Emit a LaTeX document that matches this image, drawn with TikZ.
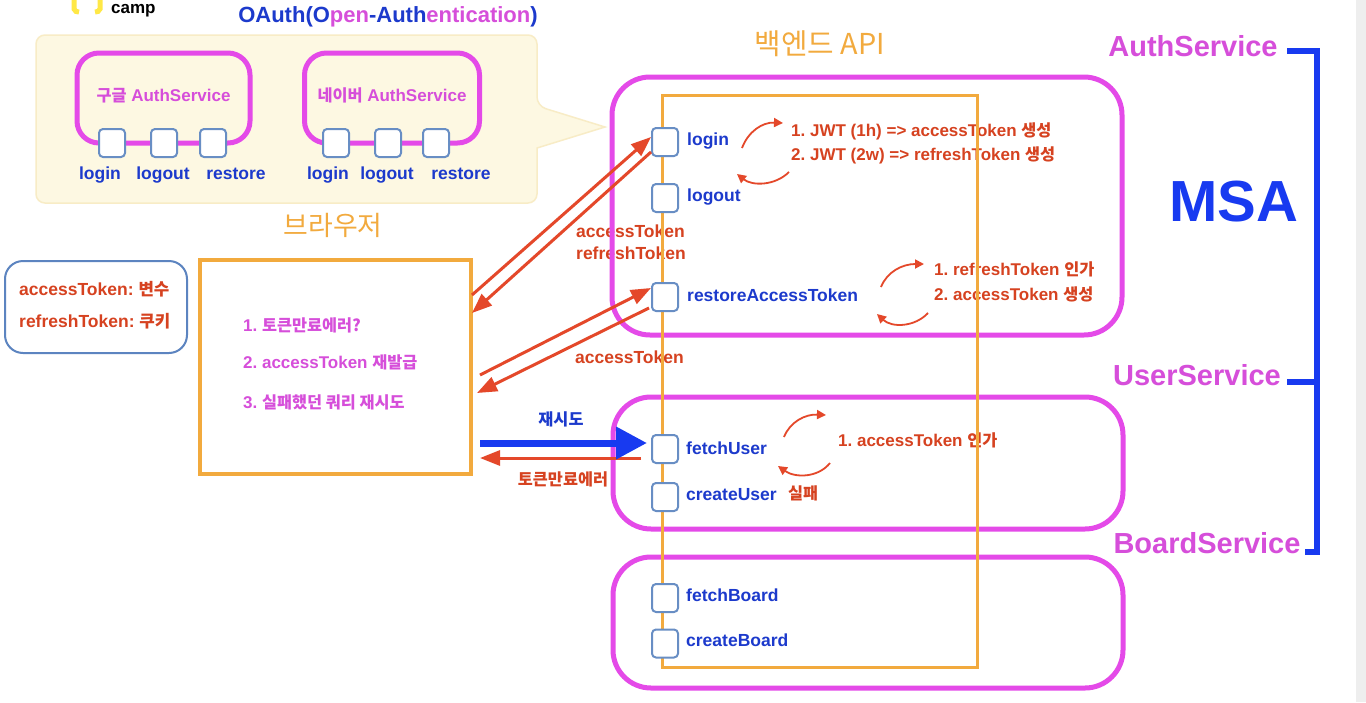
\documentclass[tikz,border=0pt]{standalone}
\usepackage{fontspec}
\setmainfont{Liberation Sans}
\newfontfamily\krf{Noto Sans CJK KR}[Scale=0.96]
\usetikzlibrary{arrows.meta}
\frenchspacing
\definecolor{pk}{RGB}{228,74,232}
\definecolor{pkt}{RGB}{214,78,218}
\definecolor{bt}{RGB}{28,58,204}
\definecolor{bb}{RGB}{24,58,240}
\definecolor{og}{RGB}{242,170,62}
\definecolor{rt}{RGB}{214,66,32}
\definecolor{ra}{RGB}{228,72,42}
\definecolor{sqb}{RGB}{104,142,196}
\definecolor{tkb}{RGB}{92,132,192}
\definecolor{yf}{RGB}{253,248,226}
\definecolor{yb}{RGB}{248,236,198}
\definecolor{logoy}{RGB}{255,232,70}
\newcommand\kr[1]{{\krf #1}}
\pgfdeclarelayer{bg}\pgfdeclarelayer{txt}\pgfdeclarelayer{box}
\pgfsetlayers{bg,txt,box,main}
\tikzset{
  fsz/.style={font=\bfseries\fontsize{#1}{#1}\selectfont, text height=0.72em, text depth=0.12em, inner sep=0pt},
  sq/.style={draw=sqb, line width=2pt, fill=white, rounded corners=4pt, minimum width=26pt, minimum height=28pt, inner sep=0pt},
  svc/.style={draw=pk, line width=5pt, rounded corners=38pt, inner sep=0pt},
  oauthsvc/.style={draw=pk, line width=5pt, rounded corners=22pt, text=pkt, fsz=17},
  lbl/.style={fsz=17.5, text=bt, anchor=west},
  oalbl/.style={fsz=17.5, text=bt},
  note/.style={fsz=17, text=rt, anchor=west},
  bitem/.style={fsz=17, text=pkt, anchor=west},
  rarrow/.style={draw=ra, line width=3pt, -{Triangle[length=20pt,width=15pt]}},
  arcar/.style={draw=ra, line width=1.8pt, -{Triangle[length=9pt,width=9pt]}},
  brk/.style={draw=bb, line width=6pt},
}
\begin{document}
\begin{tikzpicture}[x=1pt,y=-1pt]
\useasboundingbox (0,0) rectangle (1366,702);
\begin{pgfonlayer}{bg}
  \fill[white] (0,0) rectangle (1366,702);
  \fill[gray!13] (1356,0) rectangle (1366,702);
  \path[draw=yb, fill=yf, line width=1.5pt, rounded corners=9pt]
    (36,35) -- (537,35) -- (537,106) [sharp corners] -- (605,127) -- (537,148) [rounded corners=9pt] -- (537,203) -- (36,203) -- cycle;
\end{pgfonlayer}

% logo
\draw[logoy, line width=5pt, rounded corners=2pt] (74,-3) -- (74,11) -- (79,12);
\draw[logoy, line width=5pt, rounded corners=2pt] (100,-3) -- (100,11) -- (95,12);
\node[font=\bfseries\fontsize{17}{17}\selectfont, anchor=base west, inner sep=0pt] (camp) at (111,13) {camp};

% title
\node[fsz=22] (title) at (388,19) {\textcolor{bt}{OAuth(O}\textcolor{pkt}{pen}\textcolor{bt}{-Auth}\textcolor{pkt}{entication}\textcolor{bt}{)}};

\begin{pgfonlayer}{box}
  \node[oauthsvc, minimum width=173pt, minimum height=90pt] (google) at (163.5,98) {\kr{구글} AuthService};
  \node[oauthsvc, minimum width=175pt, minimum height=90pt] (naver) at (392,98) {\kr{네이버} AuthService};
  \node[svc, minimum width=510pt, minimum height=258pt] (authbox) at (867,206) {};
  \node[svc, minimum width=510pt, minimum height=132pt] (userbox) at (868,463) {};
  \node[svc, minimum width=510pt, minimum height=131pt] (boardbox) at (868,622.5) {};
  \node[draw=og, line width=3pt, minimum width=315pt, minimum height=572pt, inner sep=0pt] (backend) at (819.5,381) {};
  \node[draw=og, line width=3.5pt, minimum width=271pt, minimum height=214pt, inner sep=0pt] (browser) at (335.5,367) {};
  \node[draw=tkb, line width=2pt, rounded corners=18pt, minimum width=182pt, minimum height=92pt, inner sep=0pt] (tokbox) at (96,307) {};
\end{pgfonlayer}

% squares
\node[sq] (g1) at (112,143) {};
\node[sq] (g2) at (164,143) {};
\node[sq] (g3) at (213,143) {};
\node[sq] (n1) at (336,143) {};
\node[sq] (n2) at (388,143) {};
\node[sq] (n3) at (436,143) {};
\node[sq] (login) at (665,142) {};
\node[sq] (logout) at (665,198) {};
\node[sq] (restore) at (665,297) {};
\node[sq] (fu) at (665,449) {};
\node[sq] (cu) at (665,497) {};
\node[sq] (fb) at (665,598) {};
\node[sq] (cb) at (665,643.5) {};

\begin{pgfonlayer}{txt}
  \node[oalbl] (g1l) at (100,176) {login};
  \node[oalbl] (g2l) at (163,176) {logout};
  \node[oalbl] (g3l) at (236,176) {restore};
  \node[oalbl] (n1l) at (328,176) {login};
  \node[oalbl] (n2l) at (387,176) {logout};
  \node[oalbl] (n3l) at (461,176) {restore};

  \node[fsz=28, text=og, font=\mdseries\fontsize{28}{28}\selectfont] (brlbl) at (333,232) {\kr{브라우저}};
  \node[fsz=30, text=og, font=\mdseries\fontsize{30}{30}\selectfont] (belbl) at (820,51) {\kr{백엔드 API}};

  \node[fsz=17.5, text=rt, anchor=west] (tk1) at (19,292) {accessToken: \kr{변수}};
  \node[fsz=17.5, text=rt, anchor=west] (tk2) at (19,324) {refreshToken: \kr{쿠키}};

  \node[bitem] (b1) at (243,328) {1. \kr{토큰만료에러?}};
  \node[bitem] (b2) at (243,365) {2. accessToken \kr{재발급}};
  \node[bitem] (b3) at (243,405) {3. \kr{실패했던 쿼리 재시도}};

  \node[lbl] (loginl) at ([xshift=8pt]login.east) {login};
  \node[lbl] (logoutl) at ([xshift=8pt]logout.east) {logout};
  \node[lbl] (restorel) at ([xshift=8pt,yshift=-1pt]restore.east) {restoreAccessToken};
  \node[lbl] (ful) at ([xshift=7pt,yshift=-2pt]fu.east) {fetchUser};
  \node[lbl] (cul) at ([xshift=7pt]cu.east) {createUser};
  \node[lbl] (fbl) at ([xshift=7pt]fb.east) {fetchBoard};
  \node[lbl] (cbl) at ([xshift=7pt]cb.east) {createBoard};

  \node[note] (j1) at (791,133) {1. JWT (1h) => accessToken \kr{생성}};
  \node[note] (j2) at (791,157) {2. JWT (2w) => refreshToken \kr{생성}};
  \node[note] (r1) at (934,272) {1. refreshToken \kr{인가}};
  \node[note] (r2) at (934,297) {2. accessToken \kr{생성}};
  \node[note] (a1) at (838,443) {1. accessToken \kr{인가}};
  \node[note] (fail) at (788,496) {\kr{실패}};

  \node[note, fsz=17.5] (at1) at (576,234) {accessToken};
  \node[note, fsz=17.5] (rt1) at (576,256) {refreshToken};
  \node[note, fsz=17.5] (at2) at (575,360) {accessToken};
  \node[fsz=17, text=bt] (retry) at (561,422) {\kr{재시도}};
  \node[fsz=17, text=rt] (expire) at (563,482) {\kr{토큰만료에러}};
\end{pgfonlayer}

% right side
\node[fsz=29, text=pkt] (authlbl) at (1193,53) {AuthService};
\node[fsz=29, text=pkt] (userlbl) at (1197,382) {UserService};
\node[fsz=29, text=pkt] (boardlbl) at (1207,550) {BoardService};
\node[fsz=58, text=bb] (msa) at (1234,218) {MSA};
\coordinate (k1) at (1287,51);
\coordinate (k2) at (1287,382);
\coordinate (k3) at (1305,552);
\draw[brk] (k1) -- (1317,51) -- (1317,552) -- (k3);
\draw[brk] (k2) -- (1317,382);

% browser ends
\coordinate (bA) at (472,295);
\coordinate (bB) at (472,313);
\coordinate (bC) at (480,375);
\coordinate (bD) at (477,393);
\coordinate (bE) at (480,443);
\coordinate (bF) at (480,458);

\draw[rarrow] (bA) -- ([yshift=5pt]login.west);
\draw[rarrow] ([yshift=-10pt]login.west) -- (bB);
\draw[rarrow] (bC) -- ([yshift=9pt]restore.west);
\draw[rarrow] ([xshift=-2pt,yshift=-11pt]restore.west) -- (bD);
\draw[rarrow] ([xshift=-10pt,yshift=-9pt]fu.west) -- (bF);
\draw[draw=bb, line width=7pt, -{Triangle[length=31pt,width=31pt]}] (bE) -- ([xshift=-4pt,yshift=6pt]fu.west);

% loop arcs
\draw[arcar] (742,148) .. controls (748,132) and (762,122) .. (783,123);
\draw[arcar] (789,172) .. controls (775,186) and (752,186) .. (737,174);
\draw[arcar] (881,287) .. controls (887,272) and (902,264) .. (924,264);
\draw[arcar] (928,313) .. controls (915,327) and (892,328) .. (877,314);
\draw[arcar] (784,437) .. controls (790,422) and (805,414) .. (826,415);
\draw[arcar] (830,463) .. controls (818,478) and (795,478) .. (778,466);
\end{tikzpicture}
\end{document}
